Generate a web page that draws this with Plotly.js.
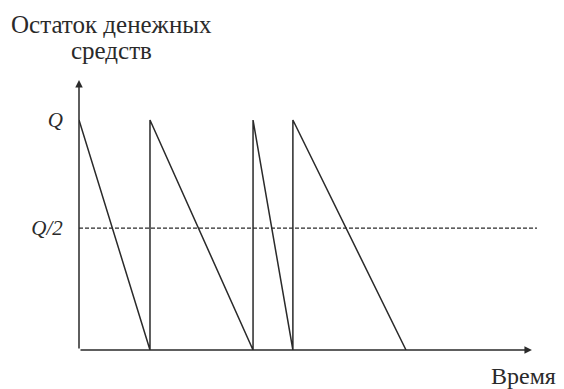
<!DOCTYPE html>
<html>
<head>
<meta charset="utf-8">
<script src="https://cdn.plot.ly/plotly-3.0.1.min.js"></script>
<style>
  html, body { margin: 0; padding: 0; background: #fff; }
  #chart { width: 564px; height: 389px; }
</style>
</head>
<body>
<div id="chart"></div>
<script>
// moments of replenishment (time units) and cash balance in units of Q
var sawX = [0, 1.55, 1.55, 3.8, 3.8, 4.67, 4.67, 7.14];
var sawY = [1, 0, 1, 0, 1, 0, 1, 0];
var halfX = [0, 10];
var halfY = [0.53, 0.53];
var tickVals = [1, 0.53];
var tickText = ['Q', 'Q/2'];

var ink = '#2a2a2a';
var serif = '"Liberation Serif", "DejaVu Serif", serif';

var saw = {
  x: sawX,
  y: sawY,
  mode: 'lines',
  line: {color: ink, width: 1.5},
  cliponaxis: false,
  hoverinfo: 'skip'
};

var half = {
  x: halfX,
  y: halfY,
  mode: 'lines',
  line: {color: ink, width: 1.3, dash: '4px,2px'},
  cliponaxis: false,
  hoverinfo: 'skip'
};

var layout = {
  width: 564,
  height: 389,
  margin: {l: 79, r: 27, t: 80, b: 39},
  showlegend: false,
  paper_bgcolor: '#fff',
  plot_bgcolor: '#fff',
  xaxis: {
    range: [0, 10],
    showgrid: false,
    zeroline: false,
    showline: false,
    showticklabels: false,
    fixedrange: true
  },
  yaxis: {
    range: [0, 1.174],
    showgrid: false,
    zeroline: false,
    showline: false,
    tickmode: 'array',
    tickvals: tickVals,
    ticktext: tickText,
    ticks: 'outside',
    ticklen: 11,
    tickcolor: 'rgba(0,0,0,0)',
    tickfont: {family: serif, size: 21, color: ink, style: 'italic'},
    fixedrange: true
  },
  annotations: [
    // y axis with arrow
    {x: 0, y: 1.174, ax: 0, ay: 0, xref: 'x', yref: 'y', axref: 'x', ayref: 'y',
     showarrow: true, arrowhead: 2, arrowsize: 1, arrowwidth: 1.5, arrowcolor: ink, text: ''},
    // x axis with arrow
    {x: 9.89, y: 0, ax: 0, ay: 0, xref: 'x', yref: 'y', axref: 'x', ayref: 'y',
     showarrow: true, arrowhead: 2, arrowsize: 1, arrowwidth: 1.5, arrowcolor: ink, text: ''},
    {text: 'Остаток денежных', xref: 'paper', yref: 'paper',
     x: 0.072, y: 1.204, xanchor: 'center', yanchor: 'middle', showarrow: false,
     font: {family: serif, size: 25, color: ink}},
    {text: 'средств', xref: 'paper', yref: 'paper',
     x: 0.072, y: 1.111, xanchor: 'center', yanchor: 'middle', showarrow: false,
     font: {family: serif, size: 25, color: ink}},
    {text: 'Время', xref: 'paper', yref: 'paper',
     x: 1.046, y: -0.096, xanchor: 'right', yanchor: 'middle', showarrow: false,
     font: {family: serif, size: 24, color: ink}}
  ]
};

Plotly.newPlot('chart', [saw, half], layout, {displayModeBar: false, staticPlot: true});
</script>
</body>
</html>
